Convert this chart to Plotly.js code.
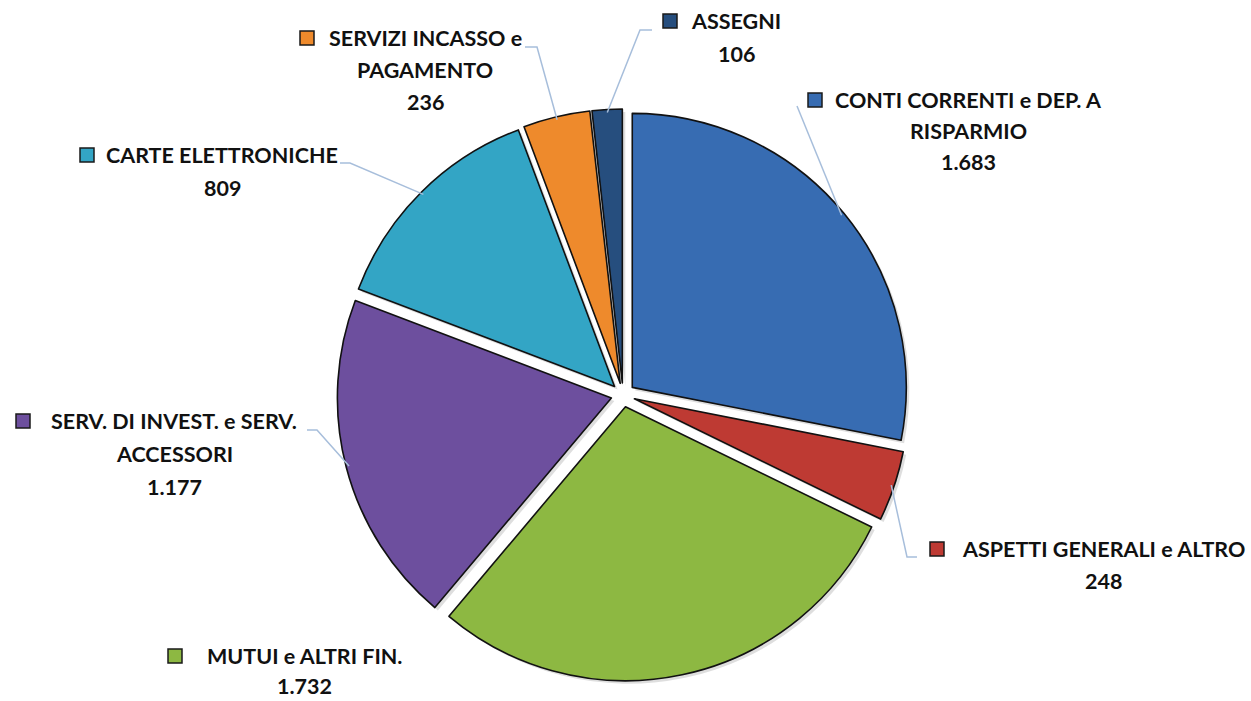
<!DOCTYPE html>
<html><head><meta charset="utf-8">
<script src="https://cdn.plot.ly/plotly-3.0.1.min.js"></script>
<style>html,body{margin:0;padding:0;background:#fff}#chart{width:1251px;height:701px}</style>
</head><body><div id="chart"></div>
<script>
// ---- data ----
const categories = ["CONTI CORRENTI e DEP. A RISPARMIO", "ASPETTI GENERALI e ALTRO", "MUTUI e ALTRI FIN.", "SERV. DI INVEST. e SERV. ACCESSORI", "CARTE ELETTRONICHE", "SERVIZI INCASSO e PAGAMENTO", "ASSEGNI"];
const values = [1683, 248, 1732, 1177, 809, 236, 106];
const labelLines = [["CONTI CORRENTI e DEP. A", "RISPARMIO"], ["ASPETTI GENERALI e ALTRO"], ["MUTUI e ALTRI FIN."], ["SERV. DI INVEST. e SERV.", "ACCESSORI"], ["CARTE ELETTRONICHE"], ["SERVIZI INCASSO e", "PAGAMENTO"], ["ASSEGNI"]];

// ---- style / layout ----
const colors = ["#376CB2", "#BE3A33", "#8DB842", "#6D4F9E", "#33A5C5", "#EE8A2C", "#264E7E"];
const W = 1251, H = 701;
const CX = 623, CY = 395, R = 274, PULL = 12;
// label placement (pixels): text centre x, first line centre y, square centre x, line gap
const labelPos = [
  {x: 968, y: 100, sq: 815, gap: 31},
  {x: 1103, y: 549, sq: 937, gap: 32},
  {x: 304, y: 656, sq: 175, gap: 30},
  {x: 174, y: 421, sq: 23, gap: 33},
  {x: 222, y: 155, sq: 87, gap: 33},
  {x: 425, y: 38, sq: 307, gap: 32},
  {x: 736, y: 21, sq: 670, gap: 33}
];
// leader line: end near label and optional elbow (pixels)
const leaders = [
  {end: [797, 106]},
  {end: [917, 557], elbow: [907, 557]},
  null,
  {end: [307, 430], elbow: [317, 430]},
  {end: [340, 163], elbow: [350, 163]},
  {end: [525, 47], elbow: [537, 47]},
  {end: [652, 30], elbow: [640, 30]}
];

const px = x => x / W, py = y => 1 - y / H;
const fmt = n => String(n).replace(/\B(?=(\d{3})+(?!\d))/g, '.');

const half = R + PULL;
const dom = {x: [px(CX - half), px(CX + half)], y: [py(CY + half), py(CY - half)]};
const SH = 3;
const domShadow = {x: [px(CX - half + SH), px(CX + half + SH)], y: [py(CY + half + SH), py(CY - half + SH)]};
const pulls = values.map(() => PULL / R);

const shadow = {
  type: 'pie', values: values, labels: categories, sort: false, direction: 'clockwise', rotation: 0,
  pull: pulls, domain: domShadow, textinfo: 'none', hoverinfo: 'skip',
  marker: {colors: values.map(() => 'rgba(0,0,0,0.13)'), line: {width: 0}}
};
const pie = {
  type: 'pie', values: values, labels: categories, sort: false, direction: 'clockwise', rotation: 0,
  pull: pulls, domain: dom, textinfo: 'none', hoverinfo: 'label+value',
  marker: {colors: colors, line: {color: '#111', width: 1.6}}
};

const total = values.reduce((a, b) => a + b, 0);
const annotations = [], shapes = [];
let cum = 0;
values.forEach((v, i) => {
  const mid = (cum + v / 2) / total * 2 * Math.PI;
  cum += v;
  const lp = labelPos[i];
  const lines = labelLines[i].concat([fmt(v)]);
  lines.forEach((t, k) => {
    annotations.push({
      x: px(lp.x), y: py(lp.y + k * lp.gap), xref: 'paper', yref: 'paper',
      xanchor: 'center', yanchor: 'middle', showarrow: false, text: t,
      font: {family: 'Lato, "Open Sans", sans-serif', size: 21.5, color: '#111', weight: 700}
    });
  });
  const s = 7;
  shapes.push({type: 'rect', xref: 'paper', yref: 'paper',
    x0: px(lp.sq - s), x1: px(lp.sq + s), y0: py(lp.y + s), y1: py(lp.y - s),
    fillcolor: colors[i], line: {color: '#1a1a1a', width: 1.5}});
  const ld = leaders[i];
  if (ld) {
    const rr = R + PULL - 3;
    const sx = CX + rr * Math.sin(mid), sy = CY - rr * Math.cos(mid);
    const pts = [ld.end];
    if (ld.elbow) pts.push(ld.elbow);
    pts.push([sx, sy]);
    const path = pts.map((p, j) => (j ? 'L' : 'M') + px(p[0]).toFixed(5) + ',' + py(p[1]).toFixed(5)).join(' ');
    shapes.push({type: 'path', xref: 'paper', yref: 'paper', path: path,
      line: {color: '#A7BEDB', width: 1.5}});
  }
});

const layout = {
  width: W, height: H, margin: {l: 0, r: 0, t: 0, b: 0},
  paper_bgcolor: '#fff', plot_bgcolor: '#fff', showlegend: false,
  annotations: annotations, shapes: shapes
};
Plotly.newPlot('chart', [shadow, pie], layout, {displayModeBar: false, staticPlot: true});
</script></body></html>
